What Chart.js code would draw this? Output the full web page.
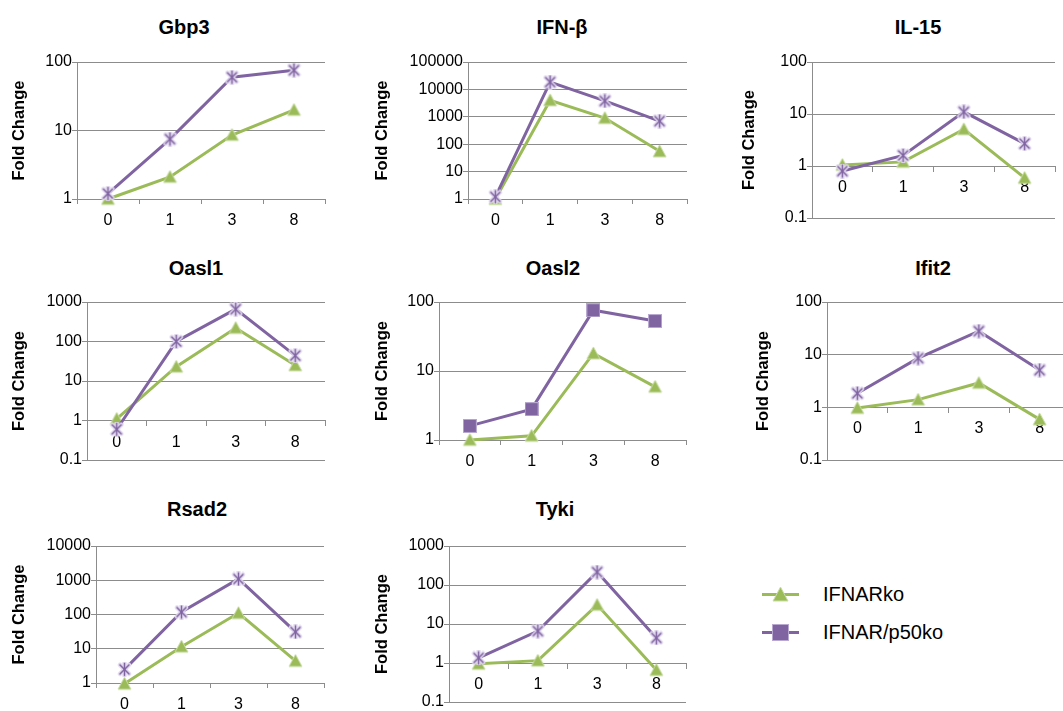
<!DOCTYPE html>
<html lang="en">
<head>
<meta charset="UTF-8">
<title>Fold Change time course</title>
<script src="https://cdn.jsdelivr.net/npm/chart.js"></script>
<style>
	body { margin: 0; background: #fff; font-family: "Liberation Sans", Arial, sans-serif; }
	#page { position: relative; width: 1063px; height: 711px; overflow: hidden; }
	#page canvas { position: absolute; }
	.ttl { position: absolute; transform: translate(-50%, -50%); font-weight: bold; font-size: 20px; white-space: nowrap; color: #000; }
	.leg-line { position: absolute; height: 3px; }
	.leg-text { position: absolute; transform: translateY(-50%); font-size: 20px; white-space: nowrap; color: #000; }
</style>
</head>
<body>
<div id="page"></div>
<script>
// time points (x categories)
const times = ['0', '1', '3', '8'];
const genes = ['Gbp3', 'IFN-β', 'IL-15', 'Oasl1', 'Oasl2', 'Ifit2', 'Rsad2', 'Tyki'];

// IFNARko (green)
const koGbp3 = [1.0, 2.1, 8.6, 20];
const koIfnb = [1.0, 4000, 900, 55];
const koIl15 = [1.05, 1.2, 5.1, 0.59];
const koOasl1 = [1.1, 23, 220, 25];
const koOasl2 = [1.0, 1.15, 18, 5.9];
const koIfit2 = [0.97, 1.4, 2.9, 0.59];
const koRsad2 = [0.95, 11.5, 110, 4.4];
const koTyki = [0.95, 1.15, 31, 0.66];

// IFNAR/p50ko (purple)
const p50Gbp3 = [1.2, 7.5, 60, 76];
const p50Ifnb = [1.2, 18600, 3800, 700];
const p50Il15 = [0.8, 1.6, 11, 2.7];
const p50Oasl1 = [0.6, 100, 660, 44];
const p50Oasl2 = [1.6, 2.8, 76, 53];
const p50Ifit2 = [1.85, 8.6, 28, 5.1];
const p50Rsad2 = [2.5, 118, 1090, 31];
const p50Tyki = [1.35, 6.6, 215, 4.4];

// y-axis tick labels (log decades)
const ticksGbp3 = [1, 10, 100];
const ticksIfnb = [1, 10, 100, 1000, 10000, 100000];
const ticksIl15 = [0.1, 1, 10, 100];
const ticksOasl1 = [0.1, 1, 10, 100, 1000];
const ticksOasl2 = [1, 10, 100];
const ticksIfit2 = [0.1, 1, 10, 100];
const ticksRsad2 = [1, 10, 100, 1000, 10000];
const ticksTyki = [0.1, 1, 10, 100, 1000];

const koSeries = [koGbp3, koIfnb, koIl15, koOasl1, koOasl2, koIfit2, koRsad2, koTyki];
const p50Series = [p50Gbp3, p50Ifnb, p50Il15, p50Oasl1, p50Oasl2, p50Ifit2, p50Rsad2, p50Tyki];
const yTicks = [ticksGbp3, ticksIfnb, ticksIl15, ticksOasl1, ticksOasl2, ticksIfit2, ticksRsad2, ticksTyki];

// panel layout: plot area, y-title x, title centre, x axis crossing at 1
const boxes = [
	{ l: 77, t: 62, r: 329, b: 199, yt: 20, tx: 184, ty: 27, cross: false, marker: 'star' },
	{ l: 468, t: 62, r: 691, b: 199, yt: 383, tx: 562, ty: 27, cross: false, marker: 'star' },
	{ l: 812, t: 62, r: 1059, b: 218, yt: 750, tx: 918, ty: 27, cross: true, marker: 'star' },
	{ l: 87, t: 302, r: 329, b: 460, yt: 20, tx: 196, ty: 268, cross: true, marker: 'star' },
	{ l: 439, t: 302, r: 690, b: 440, yt: 383, tx: 553, ty: 268, cross: false, marker: 'square' },
	{ l: 827, t: 302, r: 1074, b: 460, yt: 764, tx: 933, ty: 268, cross: true, marker: 'star' },
	{ l: 96, t: 546, r: 328, b: 683, yt: 20, tx: 197, ty: 509, cross: false, marker: 'star' },
	{ l: 449, t: 546, r: 690, b: 702, yt: 383, tx: 555, ty: 509, cross: true, marker: 'star' }
];

const green = '#9BBB59';
const purple = '#8064A2';
const axisGray = '#8c8c8c';
const tickFont = { family: '"Liberation Sans", Arial, sans-serif', size: 16 };
const yTitleFont = { family: '"Liberation Sans", Arial, sans-serif', size: 16.5, weight: 'bold' };

function makeMarker(kind, s) {
	const c = document.createElement('canvas');
	c.width = s;
	c.height = s;
	const g = c.getContext('2d');
	if(kind === 'triangle') {
		g.beginPath();
		g.moveTo(s / 2, 1);
		g.lineTo(s - 1, s - 2);
		g.lineTo(1, s - 2);
		g.closePath();
		g.fillStyle = green;
		g.fill();
		g.strokeStyle = '#c8dca4';
		g.lineWidth = 1;
		g.stroke();
	} else if(kind === 'square') {
		g.fillStyle = purple;
		g.fillRect(1, 1, s - 2, s - 2);
		g.strokeStyle = '#b9a9d0';
		g.lineWidth = 1;
		g.strokeRect(0.5, 0.5, s - 1, s - 1);
	} else {
		const m = s / 2, e = 3;
		const lines = [[e, e, s - e, s - e], [s - e, e, e, s - e], [m, 1.5, m, s - 1.5]];
		g.lineCap = 'round';
		[['#e2d9ee', 4.5], [purple, 1.5]].forEach(([col, lw]) => {
			g.strokeStyle = col;
			g.lineWidth = lw;
			lines.forEach(([x1, y1, x2, y2]) => {
				g.beginPath();
				g.moveTo(x1, y1);
				g.lineTo(x2, y2);
				g.stroke();
			});
		});
	}
	return c;
}

const markers = {
	triangle: makeMarker('triangle', 15),
	star: makeMarker('star', 15),
	square: makeMarker('square', 14)
};

const page = document.getElementById('page');

boxes.forEach((bx, i) => {
	const yt = yTicks[i];
	const a = Math.round(bx.yt - 9.9);
	const top = bx.t - 14;
	const room = bx.cross ? 14 : 34;
	const cv = document.createElement('canvas');
	cv.width = bx.r + 4 - a;
	cv.height = bx.b + room - top;
	cv.style.left = a + 'px';
	cv.style.top = top + 'px';
	page.appendChild(cv);

	const ttl = document.createElement('div');
	ttl.className = 'ttl';
	ttl.textContent = genes[i];
	ttl.style.left = bx.tx + 'px';
	ttl.style.top = bx.ty + 'px';
	page.appendChild(ttl);

	new Chart(cv, {
		type: 'line',
		data: {
			labels: times,
			datasets: [{
				label: 'IFNAR/p50ko',
				data: p50Series[i],
				borderColor: purple,
				pointStyle: markers[bx.marker],
				clip: false,
				order: 0
			}, {
				label: 'IFNARko',
				data: koSeries[i],
				borderColor: green,
				pointStyle: markers.triangle,
				clip: false,
				order: 1
			}]
		},
		options: {
			responsive: false,
			animation: false,
			events: [],
			layout: { padding: { left: 0, top: 14, right: 4, bottom: bx.cross ? 14 : 0 } },
			elements: {
				line: { borderWidth: 3, tension: 0 },
				point: { radius: 7 }
			},
			plugins: {
				legend: { display: false },
				tooltip: { enabled: false },
				title: { display: false }
			},
			scales: {
				x: {
					type: 'category',
					offset: true,
					position: bx.cross ? { y: 1 } : 'bottom',
					grid: { display: true, drawOnChartArea: false, offset: true, tickLength: 5, color: axisGray },
					border: { display: true, color: axisGray },
					ticks: { padding: 7, color: '#000', font: tickFont, maxRotation: 0, autoSkip: false },
					afterFit: s => { s.height = 34; }
				},
				y: {
					type: 'logarithmic',
					min: yt[0],
					max: yt[yt.length - 1],
					afterBuildTicks: s => { s.ticks = yt.map(v => ({ value: v })); },
					ticks: { callback: v => String(v), padding: 0, color: '#000', font: tickFont, autoSkip: false },
					grid: { color: axisGray, tickLength: 5 },
					border: { display: true, color: axisGray },
					title: { display: true, text: 'Fold Change', color: '#000', font: yTitleFont, padding: 0 },
					afterFit: s => { s.width = bx.l - a; }
				}
			}
		}
	});
});

// legend
const legendRows = [
	{ label: 'IFNARko', color: green, marker: 'triangle', y: 594 },
	{ label: 'IFNAR/p50ko', color: purple, marker: 'square', y: 632 }
];
legendRows.forEach(row => {
	const line = document.createElement('div');
	line.className = 'leg-line';
	line.style.background = row.color;
	line.style.left = '762px';
	line.style.width = '37px';
	line.style.top = (row.y - 1.5) + 'px';
	page.appendChild(line);
	const mk = makeMarker(row.marker, 17);
	mk.style.left = (780 - 8.5) + 'px';
	mk.style.top = (row.y - 8.5) + 'px';
	page.appendChild(mk);
	const txt = document.createElement('div');
	txt.className = 'leg-text';
	txt.textContent = row.label;
	txt.style.left = '823px';
	txt.style.top = row.y + 'px';
	page.appendChild(txt);
});
</script>
</body>
</html>
